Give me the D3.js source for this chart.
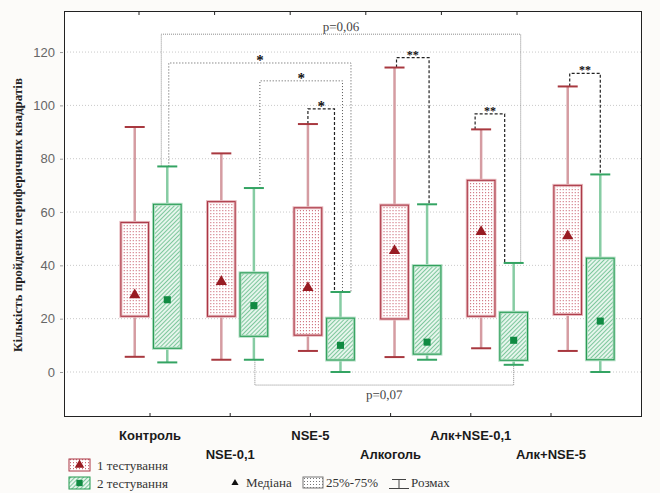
<!DOCTYPE html>
<html>
<head>
<meta charset="utf-8">
<script src="https://cdn.jsdelivr.net/npm/d3@7"></script>
<style>
  body { margin: 0; background: #fcfbf9; }
  svg { display: block; }
</style>
</head>
<body>
<script>
// groups and the two test runs
const categories = ['Контроль', 'NSE-0,1', 'NSE-5', 'Алкоголь', 'Алк+NSE-0,1', 'Алк+NSE-5'];
const series = ['1 тестування', '2 тестування'];
const yTicks = [0, 20, 40, 60, 80, 100, 120];

// 1 тестування
const test1Min    = [5.7, 4.6, 7.9, 5.6, 8.9, 7.9];
const test1Q1     = [20.9, 20.9, 13.8, 19.9, 20.9, 21.6];
const test1Median = [28.9, 33.9, 31.6, 45.5, 52.6, 51.0];
const test1Q3     = [56.1, 63.9, 61.6, 62.6, 71.9, 70.0];
const test1Max    = [91.9, 82.0, 93.0, 114.2, 91.0, 107.1];

// 2 тестування
const test2Min    = [3.6, 4.6, 0.0, 4.6, 2.7, 0.0];
const test2Q1     = [8.9, 13.4, 4.5, 6.7, 4.4, 4.6];
const test2Median = [27.1, 24.9, 10.0, 11.2, 11.9, 19.1];
const test2Q3     = [62.9, 37.2, 20.2, 39.9, 22.4, 42.7];
const test2Max    = [77.1, 69.0, 30.0, 62.9, 40.9, 74.1];

// significance brackets: [group, series] of each leg, bracket level, label
const bracketFrom   = [[0, 1], [0, 1], [1, 1], [2, 0], [3, 0], [4, 0], [5, 0], [1, 1]];
const bracketTo     = [[4, 1], [2, 1], [2, 1], [2, 1], [3, 1], [4, 1], [5, 1], [4, 1]];
const bracketLevel  = [126.7, 115.9, 109.2, 98.7, 117.9, 96.8, 112.0, -4.9];
const bracketLabels = ['p=0,06', '*', '*', '*', '**', '**', '**', 'p=0,07'];

const boxes = categories.map((c, i) => [
  {cat: c, s: 0, min: test1Min[i], q1: test1Q1[i], med: test1Median[i], q3: test1Q3[i], max: test1Max[i]},
  {cat: c, s: 1, min: test2Min[i], q1: test2Q1[i], med: test2Median[i], q3: test2Q3[i], max: test2Max[i]}
]).flat();

const W = 660, H = 493;
const frame = {left: 64, top: 11, right: 641, bottom: 416};

const svg = d3.select('body').append('svg')
  .attr('width', W).attr('height', H);

const defs = svg.append('defs');
const dots = defs.append('pattern').attr('id', 'dots')
  .attr('patternUnits', 'userSpaceOnUse').attr('width', 3).attr('height', 3);
dots.append('rect').attr('width', 3).attr('height', 3).attr('fill', '#fff');
dots.append('rect').attr('x', 1).attr('y', 0).attr('width', 1).attr('height', 1).attr('fill', '#cc6b78');
dots.append('rect').attr('x', 1).attr('y', 1).attr('width', 1).attr('height', 1).attr('fill', '#f4dde0');

const hatch = defs.append('pattern').attr('id', 'hatch')
  .attr('patternUnits', 'userSpaceOnUse').attr('width', 3).attr('height', 3)
  .attr('patternTransform', 'rotate(45)');
hatch.append('rect').attr('width', 3).attr('height', 3).attr('fill', '#e6f5ec');
hatch.append('line').attr('x1', 0).attr('y1', 0).attr('x2', 0).attr('y2', 3)
  .attr('stroke', '#4fb47a').attr('stroke-width', 1.4);

const greyDots = defs.append('pattern').attr('id', 'greyDots')
  .attr('patternUnits', 'userSpaceOnUse').attr('width', 3).attr('height', 3);
greyDots.append('rect').attr('width', 3).attr('height', 3).attr('fill', '#fff');
greyDots.append('rect').attr('x', 1).attr('y', 1).attr('width', 1).attr('height', 1).attr('fill', '#777');

// scales
const x = d3.scalePoint().domain(categories).range([151, 584]);
const xs = d3.scaleBand().domain([0, 1]).range([-35, 35]).padding(0.15);
const xLabel = d3.scalePoint().domain(categories).range([150, 551]);
const y = d3.scaleLinear().domain([-16.5, 135.4]).range([frame.bottom, frame.top]);

const cx = (ci, s) => x(categories[ci]) + xs(s) + xs.bandwidth() / 2;

const colors = [
  {whisker: '#d59ca2', cap: '#a8383f', outer: '#e6b5ba', inner: '#a93443', fill: 'url(#dots)', mark: '#981b22'},
  {whisker: '#86cca3', cap: '#34a463', outer: '#b1ddc3', inner: '#21994f', fill: 'url(#hatch)', mark: '#108a42'}
];

// plot area
svg.append('rect')
  .attr('x', frame.left).attr('y', frame.top)
  .attr('width', frame.right - frame.left).attr('height', frame.bottom - frame.top)
  .attr('fill', '#fff');

// grid
svg.append('g').selectAll('line').data(yTicks).enter().append('line')
  .attr('x1', frame.left).attr('x2', frame.right)
  .attr('y1', d => y(d)).attr('y2', d => y(d))
  .attr('stroke', '#c9c9c9').attr('stroke-dasharray', '1,2');

// y axis
const yAxis = d3.axisLeft(y).tickValues(yTicks).tickSize(3).tickPadding(5);
svg.append('g')
  .attr('transform', `translate(${frame.left - 1},0)`)
  .call(yAxis)
  .call(g => g.select('.domain').remove())
  .call(g => g.selectAll('line').attr('stroke', '#999'))
  .call(g => g.selectAll('text')
    .attr('font-family', 'Arial, "Liberation Sans", sans-serif')
    .attr('font-size', 13).attr('fill', '#666'));

svg.append('text')
  .attr('transform', `translate(22, 215) rotate(-90)`)
  .attr('text-anchor', 'middle')
  .attr('font-family', '"Times New Roman", "Liberation Serif", serif')
  .attr('font-weight', 'bold').attr('font-size', 13).attr('fill', '#222')
  .text('Кількість пройдених периферичних квадратів');

// brackets (drawn under the boxes)
const bracketG = svg.append('g').attr('fill', 'none');
const legDx = [[-6, 7], [1.5, 10.5], [6, 2], [0, -6], [2, 2], [-6, -9], [2, 0], [1, 0]];
bracketLabels.forEach((lab, i) => {
  const [fc, fs] = bracketFrom[i];
  const [tc, ts] = bracketTo[i];
  const fb = boxes[fc * 2 + fs], tb = boxes[tc * 2 + ts];
  const below = bracketLevel[i] < 0;
  const x1 = cx(fc, fs) + legDx[i][0], x2 = cx(tc, ts) + legDx[i][1];
  const yl = y(bracketLevel[i]);
  const y1 = y(below ? fb.min : fb.max), y2 = y(below ? tb.min : tb.max);
  const dashed = lab.startsWith('**') || (lab === '*' && fs === 0);
  const pval = lab.startsWith('p');
  bracketG.append('path')
    .attr('d', `M${x1},${y1}V${yl}H${x2}V${y2}`)
    .attr('stroke', dashed ? '#222' : (pval ? '#8a8a8a' : '#555'))
    .attr('stroke-width', dashed ? 1.2 : 1)
    .attr('stroke-dasharray', dashed ? '3,2' : (pval ? '1,1' : '1,2'));
  svg.append('text')
    .attr('x', (x1 + x2) / 2)
    .attr('y', pval ? (below ? yl + 14 : yl - 3) : yl + (lab === '*' ? 2 : 1))
    .attr('text-anchor', 'middle')
    .attr('font-family', '"Liberation Serif", serif')
    .attr('font-size', pval ? 13 : (lab === '*' ? 15 : 12))
    .attr('font-weight', pval ? 'normal' : 'bold')
    .attr('fill', pval ? '#444' : '#111')
    .style('text-rendering', 'geometricPrecision')
    .text(lab);
});

// boxes
const box = svg.append('g').selectAll('g').data(boxes).enter().append('g')
  .attr('transform', d => `translate(${x(d.cat) + xs(d.s) + xs.bandwidth() / 2},0)`);
const bw = xs.bandwidth();
const capW = 20;

box.append('line')
  .attr('y1', d => y(d.max)).attr('y2', d => y(d.q3))
  .attr('stroke', d => colors[d.s].whisker).attr('stroke-width', 2.5);
box.append('line')
  .attr('y1', d => y(d.q1)).attr('y2', d => y(d.min))
  .attr('stroke', d => colors[d.s].whisker).attr('stroke-width', 2.5);
box.append('line')
  .attr('x1', -capW / 2).attr('x2', capW / 2)
  .attr('y1', d => y(d.max)).attr('y2', d => y(d.max))
  .attr('stroke', d => colors[d.s].cap).attr('stroke-width', 2);
box.append('line')
  .attr('x1', -capW / 2).attr('x2', capW / 2)
  .attr('y1', d => y(d.min)).attr('y2', d => y(d.min))
  .attr('stroke', d => colors[d.s].cap).attr('stroke-width', 2);

box.append('rect')
  .attr('x', -bw / 2).attr('width', bw)
  .attr('y', d => y(d.q3)).attr('height', d => y(d.q1) - y(d.q3))
  .attr('fill', d => colors[d.s].fill)
  .attr('stroke', d => colors[d.s].outer).attr('stroke-width', 3);
box.append('rect')
  .attr('x', -bw / 2).attr('width', bw)
  .attr('y', d => y(d.q3)).attr('height', d => y(d.q1) - y(d.q3))
  .attr('fill', 'none')
  .attr('stroke', d => colors[d.s].inner).attr('stroke-width', 1);

box.append('path')
  .attr('transform', d => `translate(0,${y(d.med)})`)
  .attr('d', d => d3.symbol(d.s === 0 ? d3.symbolTriangle : d3.symbolSquare, d.s === 0 ? 55 : 50)())
  .attr('fill', d => colors[d.s].mark);

// frame and ticks
svg.append('rect')
  .attr('x', frame.left + 0.5).attr('y', frame.top + 0.5)
  .attr('width', frame.right - frame.left).attr('height', frame.bottom - frame.top)
  .attr('fill', 'none').attr('stroke', '#222');

const topTicks = d3.scalePoint().domain(categories).range([139, 517]);
svg.append('g').selectAll('line').data(categories).enter().append('line')
  .attr('x1', d => topTicks(d)).attr('x2', d => topTicks(d))
  .attr('y1', frame.top).attr('y2', frame.top + 4).attr('stroke', '#222');

svg.append('g').selectAll('line').data(categories).enter().append('line')
  .attr('x1', d => xLabel(d)).attr('x2', d => xLabel(d))
  .attr('y1', frame.bottom + 0.5).attr('y2', frame.bottom - 3).attr('stroke', '#222');

svg.append('g').selectAll('text').data(categories).enter().append('text')
  .attr('x', d => xLabel(d))
  .attr('y', (d, i) => i % 2 === 0 ? 440 : 459)
  .attr('text-anchor', 'middle')
  .attr('font-family', 'Arial, "Liberation Sans", sans-serif')
  .attr('font-weight', 'bold').attr('font-size', 13).attr('fill', '#1a1a1a')
  .text(d => d);

// legend
const serif = '"Times New Roman", "Liberation Serif", serif';
const leg = svg.append('g');
series.forEach((s, i) => {
  const ly = 459 + i * 18;
  leg.append('rect').attr('x', 69).attr('y', ly).attr('width', 21).attr('height', 12)
    .attr('fill', colors[i].fill).attr('stroke', colors[i].inner);
  leg.append('path')
    .attr('transform', `translate(79.5,${ly + 6})`)
    .attr('d', d3.symbol(i === 0 ? d3.symbolTriangle : d3.symbolSquare, 40)())
    .attr('fill', colors[i].mark);
  leg.append('text').attr('x', 97).attr('y', ly + 11)
    .attr('font-family', serif).attr('font-size', 13).attr('fill', '#333')
    .text(s);
});

leg.append('path')
  .attr('transform', 'translate(235,483)')
  .attr('d', d3.symbol(d3.symbolTriangle, 22)())
  .attr('fill', '#111');
leg.append('text').attr('x', 246).attr('y', 487)
  .attr('font-family', serif).attr('font-size', 13).attr('fill', '#333').text('Медіана');
leg.append('rect').attr('x', 303).attr('y', 477).attr('width', 20).attr('height', 11)
  .attr('fill', 'url(#greyDots)').attr('stroke', '#777');
leg.append('text').attr('x', 326).attr('y', 487)
  .attr('font-family', serif).attr('font-size', 13).attr('fill', '#333').text('25%-75%');
leg.append('path')
  .attr('d', 'M392,479.5H406M399,479.5V488.5M389,488.5H409')
  .attr('stroke', '#444').attr('fill', 'none');
leg.append('text').attr('x', 411).attr('y', 487)
  .attr('font-family', serif).attr('font-size', 13).attr('fill', '#333').text('Розмах');
</script>
</body>
</html>
